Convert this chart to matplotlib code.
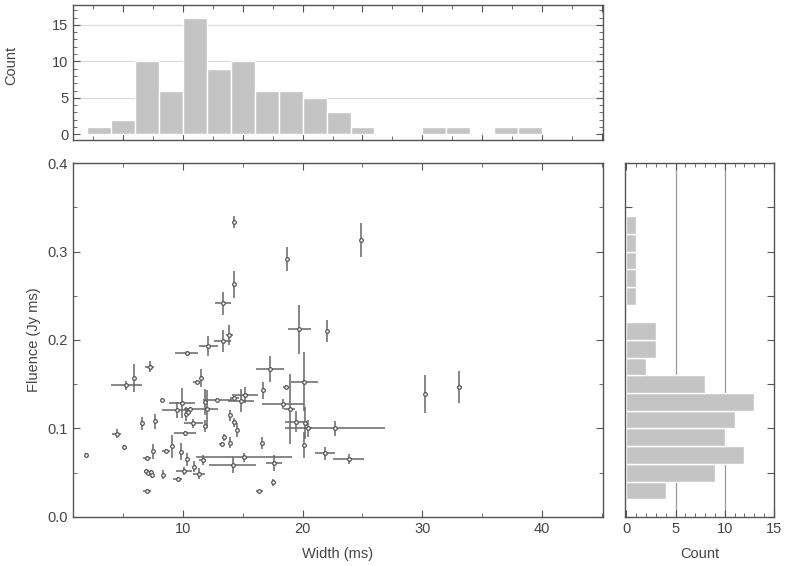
import numpy as np
import matplotlib.pyplot as plt
from matplotlib.ticker import MultipleLocator

plt.rcParams['font.family'] = ['Liberation Sans', 'DejaVu Sans']
plt.rcParams['font.size'] = 10.5

# burst widths (ms), fluences (Jy ms) and their errors
width = [1.9, 4.45, 5.05, 5.27, 5.92, 7.2, 6.54, 7.66, 8.27, 10.3,
         12.1, 13.3, 13.88, 13.37, 14.27, 14.24, 18.68, 24.87, 19.73, 22.0,
         17.28, 20.15, 16.72, 18.6, 18.34, 18.9, 19.46, 20.2, 20.45, 22.72,
         20.15, 21.9, 23.84, 30.2, 33.1, 17.6, 16.64, 17.48, 16.36, 15.1,
         14.15, 11.65, 13.93, 14.3, 14.5, 13.45, 13.24, 13.93, 11.84, 11.5,
         11.15, 15.2, 14.85, 14.3, 12.87, 11.84, 12.0, 9.89, 9.52, 10.59,
         10.25, 10.87, 10.17, 7.0, 7.46, 6.88, 7.1, 7.3, 7.4, 7.0,
         8.35, 8.58, 9.05, 9.8, 10.3, 9.55, 10.1, 10.92, 11.34, 10.45]
fluence = [0.070, 0.094, 0.079, 0.149, 0.157, 0.170, 0.106, 0.108, 0.132, 0.185,
           0.193, 0.199, 0.2056, 0.2414, 0.263, 0.333, 0.2915, 0.313, 0.212, 0.210,
           0.167, 0.153, 0.143, 0.147, 0.128, 0.122, 0.1077, 0.1066, 0.100, 0.100,
           0.0814, 0.072, 0.0655, 0.1386, 0.1465, 0.0608, 0.0833, 0.039, 0.0297, 0.0675,
           0.0588, 0.0644, 0.115, 0.107, 0.098, 0.090, 0.0828, 0.084, 0.103, 0.157,
           0.153, 0.138, 0.1315, 0.135, 0.132, 0.130, 0.122, 0.129, 0.121, 0.122,
           0.1165, 0.106, 0.0946, 0.0665, 0.0742, 0.052, 0.050, 0.0505, 0.048, 0.0294,
           0.048, 0.0746, 0.080, 0.0738, 0.065, 0.0427, 0.052, 0.057, 0.049, 0.119]
width_err = [0.1, 0.35, 0.1, 1.28, 0.1, 0.4, 0.05, 0.05, 0.15, 0.98,
             0.8, 0.7, 0.3, 0.66, 0.1, 0.05, 0.05, 0.05, 0.99, 0.05,
             1.2, 1.14, 0.05, 0.25, 1.74, 0.5, 0.9, 0.1, 0.3, 4.2,
             0.05, 0.84, 1.33, 0.05, 0.2, 0.66, 0.05, 0.05, 0.3, 4.0,
             1.98, 0.3, 0.05, 0.2, 0.05, 0.1, 0.2, 0.05, 0.1, 0.05,
             0.3, 1.1, 1.09, 0.4, 1.2, 0.1, 0.9, 1.1, 1.26, 0.5,
             0.1, 0.8, 0.9, 0.35, 0.05, 0.15, 0.15, 0.1, 0.1, 0.35,
             0.05, 0.35, 0.05, 0.05, 0.05, 0.35, 0.67, 0.1, 0.5, 0.1]
fluence_err = [0.002, 0.005, 0.002, 0.005, 0.016, 0.0066, 0.0075, 0.0085, 0.002, 0.003,
               0.011, 0.012, 0.011, 0.013, 0.015, 0.0066, 0.014, 0.019, 0.028, 0.0128,
               0.0145, 0.033, 0.01, 0.002, 0.0056, 0.04, 0.012, 0.018, 0.01, 0.009,
               0.015, 0.0075, 0.006, 0.0215, 0.018, 0.0094, 0.0066, 0.004, 0.001, 0.005,
               0.009, 0.006, 0.006, 0.005, 0.008, 0.004, 0.002, 0.006, 0.007, 0.01,
               0.002, 0.009, 0.013, 0.002, 0.002, 0.015, 0.021, 0.017, 0.009, 0.002,
               0.008, 0.005, 0.003, 0.002, 0.0085, 0.002, 0.003, 0.003, 0.004, 0.002,
               0.0056, 0.002, 0.013, 0.0094, 0.007, 0.002, 0.005, 0.006, 0.006, 0.004]

# histogram counts
width_bins = [2, 4, 6, 8, 10, 12, 14, 16, 18, 20, 22, 24, 26, 28, 30, 32, 34, 36, 38]
width_counts = [1, 2, 10, 6, 16, 9, 10, 6, 6, 5, 3, 1, 0, 0, 1, 1, 0, 1, 1]
fluence_bins = [0.02, 0.04, 0.06, 0.08, 0.10, 0.12, 0.14, 0.16, 0.18, 0.20,
                0.22, 0.24, 0.26, 0.28, 0.30, 0.32]
fluence_counts = [4, 9, 12, 10, 11, 13, 8, 2, 3, 3, 0, 1, 1, 1, 1, 1]

spine_col = '#555555'
text_col = '#444444'
bar_col = '#c4c4c4'


def style_axes(ax):
    for s in ax.spines.values():
        s.set_color(spine_col)
        s.set_linewidth(1.0)
    ax.tick_params(which='both', direction='in', top=True, right=True,
                   color=spine_col, labelcolor=text_col)
    ax.tick_params(which='major', length=5)
    ax.tick_params(which='minor', length=3)


fig = plt.figure(figsize=(7.85, 5.66), dpi=100)

# main scatter
ax = fig.add_axes([0.093, 0.0866, 0.675, 0.6254])
ax.errorbar(width, fluence, xerr=width_err, yerr=fluence_err, fmt='o', ms=2.6,
            mfc='white', mec='#555555', mew=0.9, ecolor='#666666', elinewidth=1.1,
            capsize=0)
ax.set_xlim(0.8, 45.1)
ax.set_ylim(0, 0.4)
ax.xaxis.set_major_locator(MultipleLocator(10))
ax.xaxis.set_minor_locator(MultipleLocator(5))
ax.yaxis.set_major_locator(MultipleLocator(0.1))
ax.yaxis.set_minor_locator(MultipleLocator(0.05))
ax.yaxis.set_major_formatter(plt.FormatStrFormatter('%.1f'))
ax.set_xlabel('Width (ms)', color=text_col, labelpad=8)
ax.set_ylabel('Fluence (Jy ms)', color=text_col)
ax.yaxis.set_label_coords(-0.06, 0.5)
style_axes(ax)

# top histogram
axt = fig.add_axes([0.093, 0.753, 0.675, 0.238])
axt.bar(width_bins, width_counts, width=2, align='edge', color=bar_col,
        edgecolor='white', linewidth=1, zorder=2)
axt.set_xlim(0.8, 45.1)
axt.set_ylim(-0.75, 17.7)
axt.xaxis.set_major_locator(MultipleLocator(5))
axt.xaxis.set_minor_locator(MultipleLocator(2.5))
axt.yaxis.set_major_locator(MultipleLocator(5))
axt.yaxis.set_minor_locator(MultipleLocator(1))
axt.set_xticklabels([])
for v in [5, 10, 15]:
    axt.axhline(v, color='#dddddd', lw=1, zorder=1)
axt.set_ylabel('Count', color=text_col)
axt.yaxis.set_label_coords(-0.104, 0.55)
style_axes(axt)

# right histogram
axr = fig.add_axes([0.796, 0.0866, 0.19, 0.6254])
axr.barh(fluence_bins, fluence_counts, height=0.02, align='edge', color=bar_col,
         edgecolor='white', linewidth=1, zorder=2)
axr.set_ylim(0, 0.4)
axr.set_xlim(-0.15, 15)
axr.xaxis.set_major_locator(MultipleLocator(5))
axr.xaxis.set_minor_locator(MultipleLocator(1))
axr.yaxis.set_major_locator(MultipleLocator(0.05))
axr.set_yticklabels([])
for v in [5, 10]:
    axr.axvline(v, color='#999999', lw=0.9, zorder=1)
axr.set_xlabel('Count', color=text_col, labelpad=8)
style_axes(axr)

fig.savefig('out.png', dpi=100)
